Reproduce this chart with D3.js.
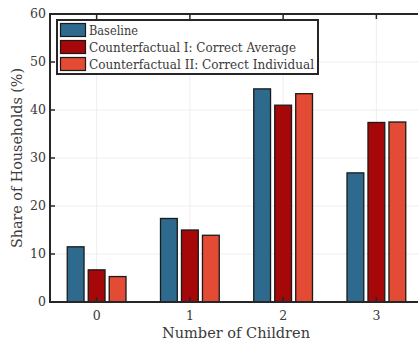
<!DOCTYPE html>
<html><head><meta charset="utf-8">
<script src="https://cdn.jsdelivr.net/npm/d3@7"></script>
<style>body{margin:0;background:#fff;overflow:hidden}svg{display:block}</style>
</head><body>
<svg id="c" width="418" height="341"></svg>
<script>
const categories = ["0","1","2","3"];
const seriesNames = ["Baseline","Counterfactual I: Correct Average","Counterfactual II: Correct Individual"];
const baseline = [11.5, 17.4, 44.4, 26.9];
const cfAverage = [6.7, 15.0, 41.0, 37.4];
const cfIndividual = [5.3, 13.9, 43.4, 37.5];
const yTicks = [0,10,20,30,40,50,60];
const colors = ["#2d6a8e","#a60709","#e34b35"];
const series = [baseline, cfAverage, cfIndividual];
const FONT = "'DejaVu Serif', serif";

const svg = d3.select("#c");
const L = 50, R = 423, T = 14, B = 302;
const x = d3.scaleLinear().domain([-0.5, 3.5]).range([L, R]);
const y = d3.scaleLinear().domain([0, 60]).range([B, T]);
const offset = 0.225, bw = 0.18;

const g = svg.append("g");
g.selectAll("line.gy").data(yTicks).join("line")
  .attr("x1", L).attr("x2", R).attr("y1", d=>y(d)).attr("y2", d=>y(d))
  .attr("stroke", "#eeeeee").attr("stroke-width", 1);
g.selectAll("line.gx").data(categories).join("line")
  .attr("y1", T).attr("y2", B).attr("x1", (d,i)=>x(i)).attr("x2", (d,i)=>x(i))
  .attr("stroke", "#eeeeee").attr("stroke-width", 1);

series.forEach((s, si) => {
  svg.append("g").selectAll("rect").data(s).join("rect")
    .attr("x", (d,i)=>x(i + (si-1)*offset - bw/2))
    .attr("width", x(bw) - x(0))
    .attr("y", d=>y(d))
    .attr("height", d=>y(0)-y(d))
    .attr("fill", colors[si])
    .attr("stroke", "#1a1a1a").attr("stroke-width", 1.3);
});

const ax = svg.append("g").attr("fill","none").attr("stroke","#262626");
ax.append("rect").attr("x", L).attr("y", T).attr("width", R-L).attr("height", B-T).attr("stroke-width", 2);
yTicks.forEach(t => {
  ax.append("line").attr("x1", L).attr("x2", L+5).attr("y1", y(t)).attr("y2", y(t)).attr("stroke-width", 1.5);
  ax.append("line").attr("x1", R).attr("x2", R-5).attr("y1", y(t)).attr("y2", y(t)).attr("stroke-width", 1.5);
});
categories.forEach((c,i) => {
  ax.append("line").attr("x1", x(i)).attr("x2", x(i)).attr("y1", B).attr("y2", B-5).attr("stroke-width", 1.5);
  ax.append("line").attr("x1", x(i)).attr("x2", x(i)).attr("y1", T).attr("y2", T+5).attr("stroke-width", 1.5);
});

const txt = svg.append("g").attr("font-family", FONT).attr("fill", "#3a3a3a");
txt.append("g").selectAll("text").data(yTicks).join("text")
  .attr("x", L-4).attr("y", d=>y(d)).attr("dy","0.35em").attr("text-anchor","end")
  .attr("font-size", 12.5).text(d=>d);
txt.append("g").selectAll("text").data(categories).join("text")
  .attr("x", (d,i)=>x(i)).attr("y", 320).attr("text-anchor","middle")
  .attr("font-size", 12.5).text(d=>d);

txt.append("text").attr("x", 236).attr("y", 338).attr("text-anchor","middle")
  .attr("font-size", 15).attr("textLength", 148).attr("lengthAdjust","spacingAndGlyphs").text("Number of Children");
txt.append("text").attr("transform", `translate(22,158) rotate(-90)`).attr("text-anchor","middle")
  .attr("font-size", 15).attr("textLength", 180).attr("lengthAdjust","spacingAndGlyphs").text("Share of Households (%)");

const lg = svg.append("g");
lg.append("rect").attr("x", 57).attr("y", 20).attr("width", 261).attr("height", 54)
  .attr("fill", "#fff").attr("stroke", "#262626").attr("stroke-width", 2);
const legW = [49, 207, 225];
seriesNames.forEach((n, i) => {
  const cy = 30 + i*17;
  lg.append("rect").attr("x", 60.5).attr("y", cy-6.5).attr("width", 25).attr("height", 13)
    .attr("fill", colors[i]).attr("stroke", "#1a1a1a").attr("stroke-width", 1.2);
  lg.append("text").attr("font-family", FONT).attr("fill", "#3a3a3a")
    .attr("x", 89).attr("y", cy).attr("dy","0.35em").attr("font-size", 13)
    .attr("textLength", legW[i]).attr("lengthAdjust","spacingAndGlyphs").text(n);
});
</script>
</body></html>
